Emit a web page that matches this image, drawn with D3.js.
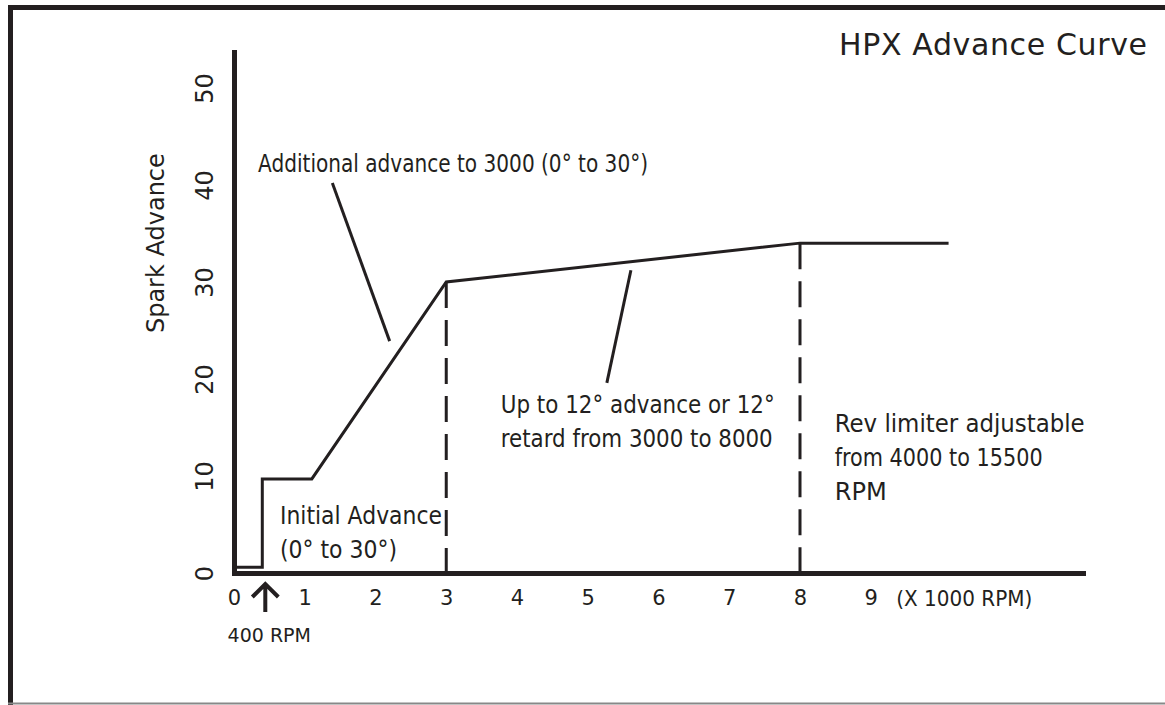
<!DOCTYPE html>
<html lang="en">
<head>
<meta charset="utf-8">
<title>HPX Advance Curve</title>
<style>
  body { margin: 0; background: #fff; }
  svg { display: block; font-family: 'DejaVu Sans', sans-serif; }
  .ink { stroke: #231f20; fill: none; }
  text { fill: #231f20; }
</style>
<script src="https://d3js.org/d3.v7.min.js"></script>
</head>
<body>
<svg id="chart" width="1165" height="705"></svg>
<script>
// x in thousands of RPM, y in degrees of spark advance
var xTicks = [0, 1, 2, 3, 4, 5, 6, 7, 8, 9];
var yTicks = [0, 10, 20, 30, 40, 50];
var curveRpm = [0, 0.4, 0.4, 1.1, 3, 8, 10.1];
var curveAdv = [0.6, 0.6, 9.7, 9.7, 30, 34, 34];
var guideRpm = [3, 8];
var guideAdv = [30, 34];

// annotation text and where it sits (data units)
var noteLines = [
  ["Additional advance to 3000 (0\u00b0 to 30\u00b0)"],
  ["Initial Advance", "(0\u00b0 to 30\u00b0)"],
  ["Up to 12\u00b0 advance or 12\u00b0", "retard from 3000 to 8000"],
  ["Rev limiter adjustable", "from 4000 to 15500", "RPM"]
];
var noteRpm = [0.34, 0.65, 3.77, 8.49];
var noteAdv = [41.3, 5.05, 16.5, 14.5];
var noteWidths = [[390], [162, 117], [274, 272], [250, 208, 52]];
var leaderRpm = [[1.39, 2.2], [5.61, 5.27]];
var leaderAdv = [[40.2, 23.9], [31.2, 19.6]];

var svg = d3.select("#chart");

var x = d3.scaleLinear().domain([0, 12]).range([234, 1083]);
var y = d3.scaleLinear().domain([0, 53.7]).range([573, 52]);

// frame
svg.append("line").attr("class", "ink").attr("x1", 8).attr("x2", 1165).attr("y1", 7.5).attr("y2", 7.5).attr("stroke-width", 5);
svg.append("line").attr("class", "ink").attr("x1", 10.5).attr("x2", 10.5).attr("y1", 5).attr("y2", 705).attr("stroke-width", 5);
svg.append("line").attr("x1", 8).attr("x2", 1165).attr("y1", 703.5).attr("y2", 703.5).attr("stroke", "#888").attr("stroke-width", 2);

svg.append("text")
  .attr("x", 839).attr("y", 55)
  .attr("font-size", 30)
  .attr("textLength", 308)
  .text("HPX Advance Curve");

// axes
var xAxis = svg.append("g")
  .attr("transform", "translate(0," + y(0) + ")")
  .call(d3.axisBottom(x).tickValues(xTicks).tickSize(0).tickSizeOuter(0).tickPadding(17).tickFormat(d3.format("d")));
xAxis.selectAll("text").attr("font-size", 21).attr("font-family", "'DejaVu Sans', sans-serif").attr("fill", "#231f20");

var yAxis = svg.append("g")
  .attr("transform", "translate(" + x(0) + ",0)")
  .call(d3.axisLeft(y).tickValues(yTicks).tickSize(0).tickSizeOuter(0).tickFormat(d3.format("d")));
yAxis.selectAll("text")
  .attr("font-size", 24)
  .attr("font-family", "'DejaVu Sans', sans-serif")
  .attr("fill", "#231f20")
  .attr("text-anchor", "middle")
  .attr("x", 0).attr("y", -21).attr("dy", null)
  .attr("transform", "rotate(-90)");

svg.selectAll(".domain")
  .attr("stroke", "#231f20")
  .attr("stroke-width", 5)
  .attr("stroke-linecap", "square");

svg.append("text")
  .attr("transform", "translate(164," + y(34) + ") rotate(-90)")
  .attr("text-anchor", "middle")
  .attr("font-size", 24)
  .text("Spark Advance");

xAxis.append("text")
  .attr("x", x(9.36)).attr("y", 33)
  .attr("font-size", 21)
  .attr("font-family", "'DejaVu Sans', sans-serif")
  .attr("fill", "#231f20")
  .attr("text-anchor", "start")
  .attr("textLength", 136)
  .attr("lengthAdjust", "spacingAndGlyphs")
  .text("(X 1000 RPM)");

// 400 RPM marker
var ax = x(curveRpm[1]) + 3;
svg.append("path").attr("class", "ink").attr("stroke-width", 4)
  .attr("d", "M" + ax + ",585V612M" + (ax - 13) + ",597L" + ax + ",584L" + (ax + 13) + ",597");
svg.append("text")
  .attr("x", ax + 4).attr("y", 642)
  .attr("text-anchor", "middle")
  .attr("font-size", 19)
  .text("400 RPM");

// dashed guides
svg.selectAll(".guide")
  .data(guideRpm)
  .enter().append("line")
  .attr("class", "guide ink")
  .attr("x1", function(d) { return x(d); })
  .attr("x2", function(d) { return x(d); })
  .attr("y1", function(d, i) { return y(guideAdv[i]); })
  .attr("y2", y(0))
  .attr("stroke-width", 3)
  .attr("stroke-dasharray", "26,12");

// advance curve
var pts = curveRpm.map(function(d, i) { return [x(d), y(curveAdv[i])]; });
svg.append("path")
  .attr("class", "ink")
  .attr("stroke-width", 3)
  .attr("stroke-linejoin", "miter")
  .attr("d", d3.line()(pts));

// leader lines
svg.selectAll(".leader")
  .data(leaderRpm)
  .enter().append("line")
  .attr("class", "leader ink")
  .attr("stroke-width", 3)
  .attr("x1", function(d) { return x(d[0]); })
  .attr("x2", function(d) { return x(d[1]); })
  .attr("y1", function(d, i) { return y(leaderAdv[i][0]); })
  .attr("y2", function(d, i) { return y(leaderAdv[i][1]); });

// notes
noteLines.forEach(function(lines, i) {
  var t = svg.append("text")
    .attr("font-size", 24)
    .attr("x", x(noteRpm[i]))
    .attr("y", y(noteAdv[i]));
  lines.forEach(function(s, j) {
    t.append("tspan")
      .attr("x", x(noteRpm[i]))
      .attr("dy", j ? 34 : 0)
      .attr("textLength", noteWidths[i][j])
      .attr("lengthAdjust", "spacingAndGlyphs")
      .text(s);
  });
});
</script>
</body>
</html>
